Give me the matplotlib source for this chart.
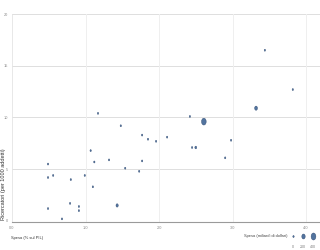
import numpy as np
import matplotlib
matplotlib.use("Agg")
import matplotlib.pyplot as plt
from matplotlib.path import Path
from matplotlib.transforms import Affine2D

# spesa in R&S (% sul PIL), ricercatori per 1000 addetti, spesa in miliardi di dollari
spesa_pil = [1.17, 1.48, 1.77, 1.85, 1.96, 2.11, 1.07, 1.12, 1.32, 0.49, 1.77,
             1.54, 1.73, 0.56, 0.49, 0.80, 0.99, 1.10, 0.79, 1.43, 0.49, 0.91,
             0.91, 0.68, 2.42, 2.61, 2.45, 2.50, 2.98, 2.90, 3.44, 3.82, 3.32]
ricercatori = [10.4, 9.2, 8.3, 7.9, 7.7, 8.1, 6.8, 5.7, 5.9, 5.5, 5.8,
               5.1, 4.8, 4.4, 4.2, 4.0, 4.4, 3.3, 1.7, 1.5, 1.2, 1.4,
               1.0, 0.2, 10.1, 9.6, 7.1, 7.1, 7.8, 6.1, 16.5, 12.7, 10.9]
spesa_mld = [5, 8, 10, 6, 12, 7, 4, 10, 6, 3, 20,
             15, 4, 2, 3, 5, 6, 3, 2, 90, 4, 5,
             2, 2, 8, 380, 30, 60, 10, 8, 5, 10, 140]

legend_vals = [0, 200, 400]
x_ticks = [0, 1, 2, 3, 4]
y_ticks = [0, 5, 10, 15, 20]

# marker ovale (come nel grafico originale)
oval = Path.unit_circle().transformed(Affine2D().scale(0.68, 1.0))

def msize(v):
    d_px = max(2.0, 7.0 * np.sqrt(v / 400.0))
    return (d_px * 0.72) ** 2

fig = plt.figure(figsize=(3.2, 2.5), dpi=100)
ax = fig.add_axes([12 / 320, 1 - 222 / 250, 1 - 12 / 320, (222 - 14) / 250])

ax.scatter(spesa_pil, ricercatori, s=[msize(v) for v in spesa_mld], marker=oval,
           color="#52749f", edgecolor="#2f4970", linewidth=0.3, zorder=3)

ax.set_xlim(0, 4.19)
ax.set_ylim(-0.1, 20)
ax.set_xticks(x_ticks)
ax.set_yticks(y_ticks)
ax.set_xticklabels(["%.1f" % t for t in x_ticks])
ax.set_yticklabels([str(t) for t in y_ticks])
ax.tick_params(length=0, labelsize=2.8, labelcolor="#888888", pad=3)
for lab in ax.get_xticklabels() + ax.get_yticklabels():
    lab.set_family("Liberation Sans")

for t in y_ticks[1:]:
    ax.axhline(t, color="#dedede", lw=0.7, zorder=1)
for t in x_ticks[1:]:
    ax.axvline(t, color="#efefef", lw=0.7, zorder=1)

for side in ["top", "right"]:
    ax.spines[side].set_visible(False)
ax.spines["left"].set_color("#e4e4e4")
ax.spines["left"].set_linewidth(0.6)
ax.spines["bottom"].set_color("#9a9a9a")
ax.spines["bottom"].set_linewidth(0.8)

fig.text(11 / 320, 1 - 238 / 250, "Spesa (% sul PIL)", fontsize=2.9,
         family="Liberation Sans", color="#333333", va="center", ha="left")
fig.text(4 / 320, 1 - 220 / 250, "Ricercatori (per 1000 addetti)", fontsize=4.0,
         family="Liberation Sans", color="#333333", rotation=90,
         va="bottom", ha="center")

# legenda dimensioni
fig.text(288 / 320, 1 - 236 / 250, "Spesa (miliardi di dollari)", fontsize=2.9,
         family="Liberation Sans", color="#444444", va="center", ha="right")
leg_x = [293, 303, 313]
for lx, v in zip(leg_x, legend_vals):
    ax.scatter([lx / 320], [1 - 236 / 250], s=msize(v), marker=oval,
               color="#52749f", edgecolor="#2f4970", linewidth=0.3,
               transform=fig.transFigure, clip_on=False, zorder=4)
    fig.text(lx / 320, 1 - 247 / 250, str(v), fontsize=2.6, family="Liberation Sans",
             color="#777777", va="center", ha="center")

fig.savefig("out.png", dpi=100)
